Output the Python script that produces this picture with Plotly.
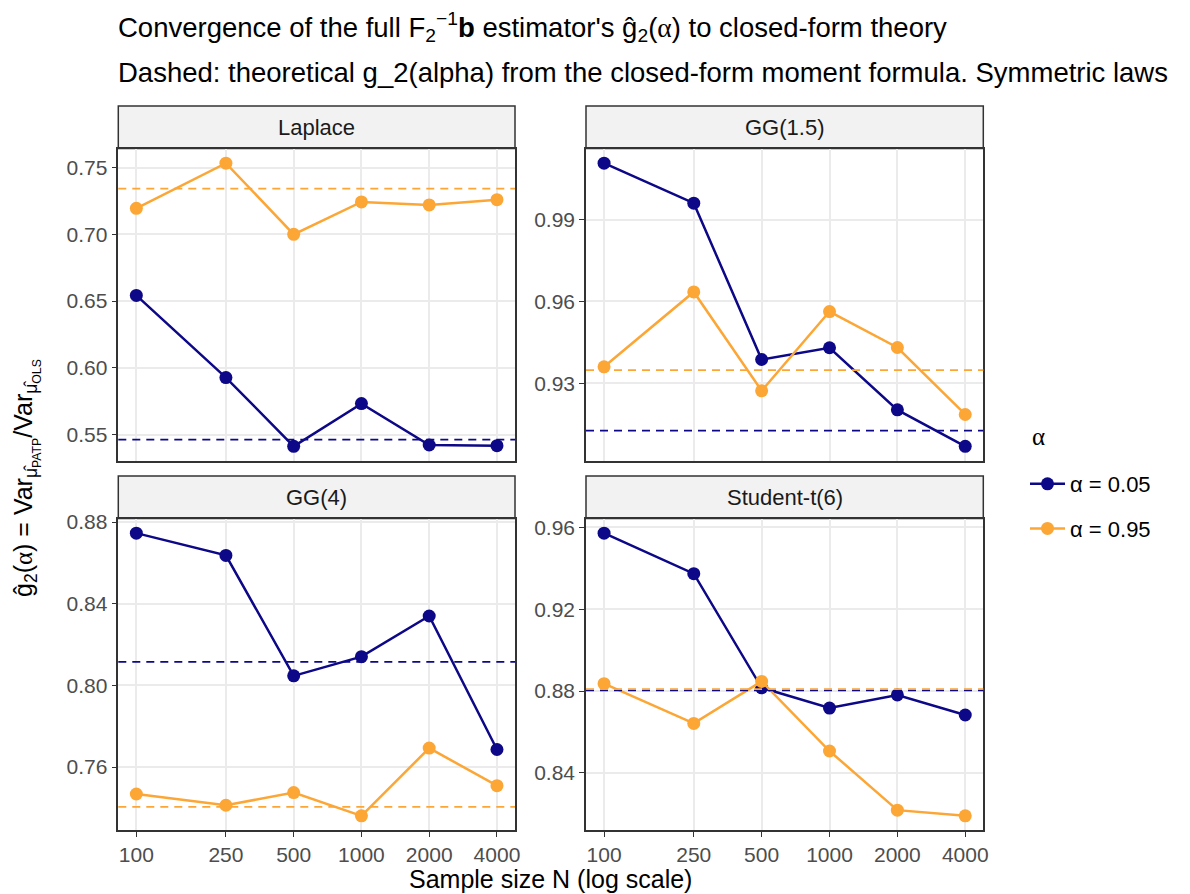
import plotly.graph_objects as go
import numpy as np

# ---------------- data ----------------
N = [100, 250, 500, 1000, 2000, 4000]
panels = ["Laplace", "GG(1.5)", "GG(4)", "Student-t(6)"]
series_names = ["α = 0.05", "α = 0.95"]

laplace_a05 = [0.6543, 0.5928, 0.5413, 0.5733, 0.5423, 0.5418]
laplace_a95 = [0.7195, 0.7533, 0.7000, 0.7243, 0.7220, 0.7260]
gg15_a05 = [1.0108, 0.9961, 0.9387, 0.9430, 0.9202, 0.9068]
gg15_a95 = [0.9360, 0.9635, 0.9272, 0.9563, 0.9431, 0.9185]
gg4_a05 = [0.8746, 0.8637, 0.8047, 0.8141, 0.8340, 0.7686]
gg4_a95 = [0.7468, 0.7413, 0.7475, 0.7361, 0.7693, 0.7509]
t6_a05 = [0.9572, 0.9374, 0.8816, 0.8717, 0.8781, 0.8683]
t6_a95 = [0.8836, 0.8642, 0.8847, 0.8507, 0.8218, 0.8190]

theory_a05 = [0.5463, 0.9126, 0.8115, 0.8803]
theory_a95 = [0.7343, 0.9348, 0.7405, 0.8810]

values_a05 = [laplace_a05, gg15_a05, gg4_a05, t6_a05]
values_a95 = [laplace_a95, gg15_a95, gg4_a95, t6_a95]

y_ticks = [
    [0.55, 0.60, 0.65, 0.70, 0.75],
    [0.93, 0.96, 0.99],
    [0.76, 0.80, 0.84, 0.88],
    [0.84, 0.88, 0.92, 0.96],
]
y_ticktext = [
    ["0.55", "0.60", "0.65", "0.70", "0.75"],
    ["0.93", "0.96", "0.99"],
    ["0.76", "0.80", "0.84", "0.88"],
    ["0.84", "0.88", "0.92", "0.96"],
]
x_ticks = [100, 250, 500, 1000, 2000, 4000]
x_ticktext = ["100", "250", "500", "1000", "2000", "4000"]

# ---------------- style ----------------
W, H = 1190, 894
OFF = 8  # page body margin compensation
C05 = "#0D0887"
C95 = "#FCA636"
FONT = "Liberation Sans, Arial, Helvetica, sans-serif"
SERIF = "Liberation Serif, Times New Roman, serif"
FRAME = "#333333"
GRID = "#EBEBEB"

# panel pixel boxes (left, right) and (top, bottom)
col_x = [(118.3, 515.0), (586.0, 983.3)]
row_y = [(149.0, 460.5), (519.0, 830.0)]
strip_h = 43.0

def px_x(p):
    return (p - OFF) / W

def px_y(p):
    return 1 - (p - OFF) / H

def al(t):
    return "<span style=\"font-family:'Liberation Serif'\">" + t + "</span>"

fig = go.Figure()
layout_axes = {}

xmin, xmax = np.log10(min(N)), np.log10(max(N))
xpad = 0.05 * (xmax - xmin)
xrange = [xmin - xpad, xmax + xpad]

shapes = []
annotations = []

for i, name in enumerate(panels):
    r, c = divmod(i, 2)
    ax = "" if i == 0 else str(i + 1)
    xa, ya = "x" + ax, "y" + ax
    allv = values_a05[i] + values_a95[i] + [theory_a05[i], theory_a95[i]]
    lo, hi = min(allv), max(allv)
    pad = 0.05 * (hi - lo)
    (xl, xr), (yt, yb) = col_x[c], row_y[r]

    layout_axes["xaxis" + ax] = dict(
        type="log", range=xrange, domain=[px_x(xl), px_x(xr)], anchor=ya,
        tickvals=x_ticks, ticktext=x_ticktext,
        showticklabels=(r == 1), ticks="outside" if r == 1 else "",
        ticklen=5, tickwidth=1.4, tickcolor=FRAME,
        tickfont=dict(family=FONT, size=21, color="#4D4D4D"),
        showgrid=True, gridcolor=GRID, gridwidth=1.8,
        showline=True, mirror=True, linecolor=FRAME, linewidth=1.5,
        zeroline=False, fixedrange=True, automargin=False,
    )
    layout_axes["yaxis" + ax] = dict(
        range=[lo - pad, hi + pad], domain=[px_y(yb), px_y(yt)], anchor=xa,
        tickvals=y_ticks[i], ticktext=y_ticktext[i],
        ticks="outside", ticklen=5, tickwidth=1.4, tickcolor=FRAME,
        tickfont=dict(family=FONT, size=21, color="#4D4D4D"),
        showgrid=True, gridcolor=GRID, gridwidth=1.8,
        showline=True, mirror=True, linecolor=FRAME, linewidth=1.5,
        zeroline=False, fixedrange=True, automargin=False,
    )

    # theoretical dashed lines
    for val, col in ((theory_a05[i], C05), (theory_a95[i], C95)):
        shapes.append(dict(
            type="line", xref=xa + " domain", x0=0, x1=1, yref=ya, y0=val, y1=val,
            line=dict(color=col, width=1.7, dash="8px,6px"), layer="above",
        ))

    for vals, col, sname in ((values_a05[i], C05, series_names[0]),
                             (values_a95[i], C95, series_names[1])):
        fig.add_trace(go.Scatter(
            x=N, y=vals, xaxis=xa, yaxis=ya, mode="lines+markers",
            line=dict(color=col, width=2.5),
            marker=dict(color=col, size=13, line=dict(width=0)),
            name=sname, legendgroup=sname, showlegend=(i == 0),
            cliponaxis=False,
        ))

    # strip
    shapes.append(dict(
        type="rect", xref="paper", yref="paper",
        x0=px_x(xl), x1=px_x(xr), y0=px_y(yt - 0.5), y1=px_y(yt - strip_h),
        fillcolor="#F2F2F2", line=dict(color=FRAME, width=1.5), layer="below",
    ))
    annotations.append(dict(
        text=name, xref="paper", yref="paper",
        x=px_x((xl + xr) / 2), y=px_y(yt - strip_h / 2),
        showarrow=False, xanchor="center", yanchor="middle",
        font=dict(family=FONT, size=22, color="#1A1A1A"),
    ))

# titles
annotations.append(dict(
    text="Convergence of the full F<sub>2</sub><sup>−1</sup><b>b</b> estimator's ĝ<sub>2</sub>(" + al("α") + ") to closed-form theory",
    xref="paper", yref="paper", x=px_x(116), y=px_y(27), xanchor="left", yanchor="middle",
    showarrow=False, font=dict(family=FONT, size=27.5, color="#000000"),
))
annotations.append(dict(
    text="Dashed: theoretical g_2(alpha) from the closed-form moment formula. Symmetric laws",
    xref="paper", yref="paper", x=px_x(116), y=px_y(73), xanchor="left", yanchor="middle",
    showarrow=False, font=dict(family=FONT, size=27.5, color="#000000"),
))
annotations.append(dict(
    text="Sample size N (log scale)",
    xref="paper", yref="paper", x=px_x(550.7), y=px_y(879), xanchor="center", yanchor="middle",
    showarrow=False, font=dict(family=FONT, size=25, color="#000000"),
))
annotations.append(dict(
    text="ĝ<sub>2</sub>(" + al("α") + ") = Var<sub>μ̂<sub>PATP</sub></sub>/Var<sub>μ̂<sub>OLS</sub></sub>",
    xref="paper", yref="paper", x=px_x(26), y=px_y(478), xanchor="center", yanchor="middle",
    textangle=-90, showarrow=False, font=dict(family=FONT, size=25, color="#000000"),
))
# legend title
annotations.append(dict(
    text=al("α"), xref="paper", yref="paper", x=px_x(1030), y=px_y(437),
    xanchor="left", yanchor="middle", showarrow=False,
    font=dict(family=SERIF, size=25, color="#000000"),
))

fig.update_layout(
    width=W, height=H,
    margin=dict(l=0, r=0, t=0, b=0, autoexpand=False),
    paper_bgcolor="white", plot_bgcolor="white",
    shapes=shapes, annotations=annotations,
    legend=dict(
        x=px_x(1025), y=px_y(463), xanchor="left", yanchor="top",
        font=dict(family=FONT, size=22, color="#000000"),
        tracegroupgap=13, itemwidth=35, bgcolor="rgba(0,0,0,0)",
    ),
    showlegend=True,
    **layout_axes,
)

fig.write_html("out.html")
